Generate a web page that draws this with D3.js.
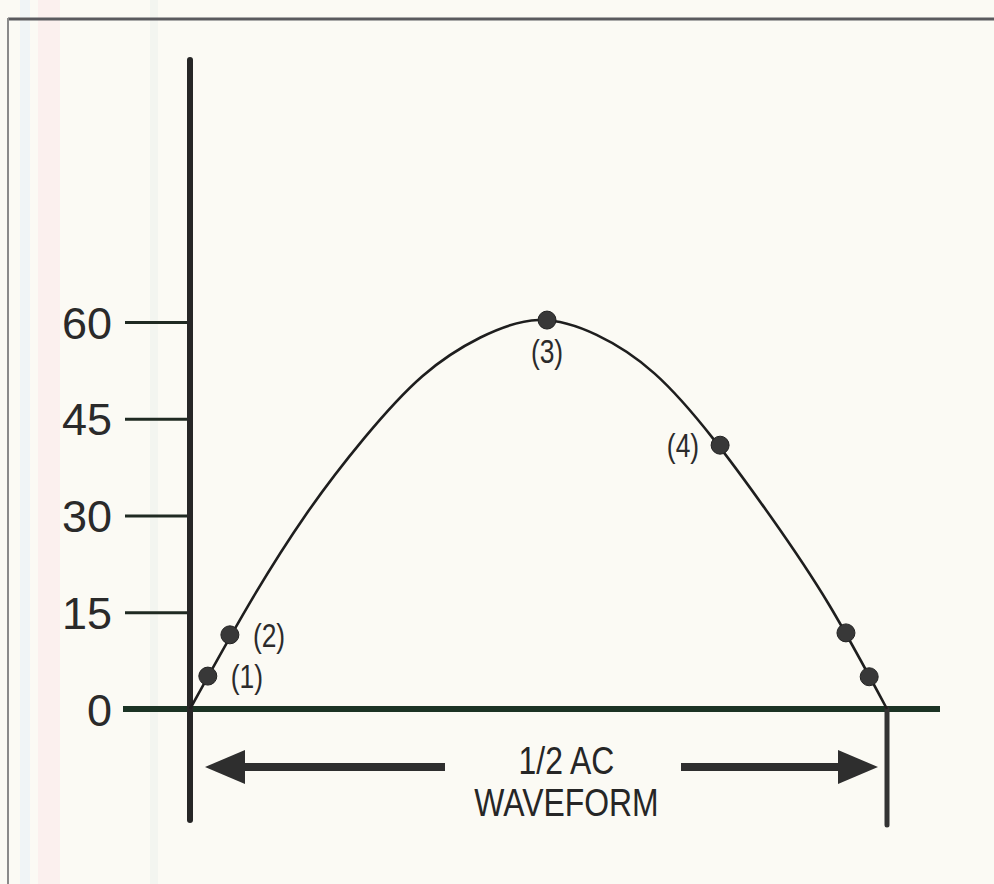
<!DOCTYPE html>
<html>
<head>
<meta charset="utf-8">
<script src="https://cdn.jsdelivr.net/npm/d3@7"></script>
<style>
  html, body { margin: 0; padding: 0; background: #fbfaf4; }
  svg { display: block; }
</style>
</head>
<body>
<svg id="chart" width="994" height="884"></svg>
<script>
// Half cycle of an AC waveform: phase in degrees, amplitude in volts
const phaseDeg   = [0, 15, 30, 45, 60, 75, 90, 105, 120, 135, 150, 165, 180];
const curveVolts = [0, 16.0, 30.2, 42.0, 51.6, 57.6, 60.3, 58.0, 52.0, 42.0, 29.8, 16.2, 0];

// Sample points marked on the waveform
const markerDeg    = [4.6, 10.3, 92.2, 136.9, 169.4, 175.4];
const markerVolts  = [5.1, 11.5, 60.3, 40.9, 11.8, 5.0];
const markerLabels = ["(1)", "(2)", "(3)", "(4)", "", ""];
const labelSide    = ["right", "right", "below", "left", "", ""];

// Vertical axis ticks
const tickValues = [0, 15, 30, 45, 60];
const tickLabels = ["0", "15", "30", "45", "60"];

const spanLines = ["1/2 AC", "WAVEFORM"];

const svg = d3.select("#chart");
const W = 994, H = 884;

// faint scan banding down the left margin
svg.append("rect").attr("x", 20).attr("y", 0).attr("width", 10).attr("height", H)
  .attr("fill", "#f0f4f6");
svg.append("rect").attr("x", 38).attr("y", 0).attr("width", 22).attr("height", H)
  .attr("fill", "#fbf0ee");
svg.append("rect").attr("x", 150).attr("y", 0).attr("width", 8).attr("height", H)
  .attr("fill", "#f3f5f0");

// frame
svg.append("line").attr("x1", 8).attr("x2", W).attr("y1", 19).attr("y2", 19)
  .attr("stroke", "#5a5a5e").attr("stroke-width", 3);
svg.append("line").attr("x1", 8).attr("x2", 8).attr("y1", 18).attr("y2", H)
  .attr("stroke", "#8a8a8a").attr("stroke-width", 2);

const x = d3.scaleLinear().domain([0, 180]).range([190, 887]);
const y = d3.scaleLinear().domain([0, 60]).range([709, 322]);

// y ticks and labels
const yAxis = d3.axisLeft(y)
  .tickValues(tickValues)
  .tickFormat((d, i) => tickLabels[i])
  .tickSize(65)
  .tickPadding(13);
const gy = svg.append("g").attr("transform", `translate(${x(0)},0)`).call(yAxis);
gy.select(".domain").remove();
gy.selectAll(".tick line").attr("stroke", "#1f2a22").attr("stroke-width", 3);
gy.selectAll(".tick text")
  .attr("fill", "#2a2a2a")
  .style("font-family", "'Liberation Sans', Arial, sans-serif")
  .style("font-size", "45px")
  .attr("dy", "0.36em");

// horizontal zero axis
svg.append("line")
  .attr("x1", 123).attr("x2", 940)
  .attr("y1", y(0)).attr("y2", y(0))
  .attr("stroke", "#1b3324").attr("stroke-width", 6);

// vertical axis
svg.append("line")
  .attr("x1", x(0)).attr("x2", x(0))
  .attr("y1", 60).attr("y2", 820)
  .attr("stroke", "#262626").attr("stroke-width", 6)
  .attr("stroke-linecap", "round");

// end-of-half-cycle marker
svg.append("line")
  .attr("x1", x(180)).attr("x2", x(180))
  .attr("y1", y(0)).attr("y2", 825)
  .attr("stroke", "#333").attr("stroke-width", 5)
  .attr("stroke-linecap", "round");

// waveform
const line = d3.line()
  .x((d, i) => x(phaseDeg[i]))
  .y(d => y(d))
  .curve(d3.curveNatural);
svg.append("path")
  .datum(curveVolts)
  .attr("d", line)
  .attr("fill", "none")
  .attr("stroke", "#1e1e1e")
  .attr("stroke-width", 2.6);

// markers
const markers = markerDeg.map((d, i) => ({ deg: d, v: markerVolts[i], label: markerLabels[i], side: labelSide[i] }));
svg.append("g").selectAll("circle")
  .data(markers).join("circle")
  .attr("cx", d => x(d.deg))
  .attr("cy", d => y(d.v))
  .attr("r", 9)
  .attr("fill", "#383838")
  .attr("stroke", "#222").attr("stroke-width", 1);

// condensed lettering: squeeze glyphs horizontally
const font = "'Liberation Sans', Arial, sans-serif";
svg.append("g").selectAll("text")
  .data(markers.filter(d => d.label))
  .join("text")
  .attr("transform", d => {
    const tx = x(d.deg) + (d.side === "right" ? 23 : d.side === "left" ? -21 : 0);
    const ty = y(d.v) + (d.side === "below" ? 31 : 0);
    return `translate(${tx},${ty}) scale(0.8,1)`;
  })
  .attr("dy", "0.36em")
  .attr("text-anchor", d => d.side === "right" ? "start" : d.side === "left" ? "end" : "middle")
  .attr("fill", "#2b2b2b")
  .style("font-family", font)
  .style("font-size", "33px")
  .text(d => d.label);

// span arrows
const arrowY = 767;
const arrowColor = "#2e2e2e";
function arrow(xFrom, xTip) {
  const dir = Math.sign(xTip - xFrom);
  const headLen = 40, headHalf = 17;
  svg.append("line")
    .attr("x1", xFrom).attr("x2", xTip - dir * headLen)
    .attr("y1", arrowY).attr("y2", arrowY)
    .attr("stroke", arrowColor).attr("stroke-width", 8);
  svg.append("path")
    .attr("d", d3.line()([[xTip, arrowY], [xTip - dir * headLen, arrowY - headHalf], [xTip - dir * headLen, arrowY + headHalf]]) + "Z")
    .attr("fill", arrowColor);
}
arrow(445, x(0) + 15);
arrow(681, x(180) - 9);

const midX = (x(0) + x(180)) / 2 + 28;
svg.append("g").selectAll("text")
  .data(spanLines).join("text")
  .attr("transform", (d, i) => `translate(${midX},${774 + i * 42}) scale(0.84,1)`)
  .attr("text-anchor", "middle")
  .attr("fill", "#262626")
  .style("font-family", font)
  .style("font-size", "38px")
  .text(d => d);
</script>
</body>
</html>
